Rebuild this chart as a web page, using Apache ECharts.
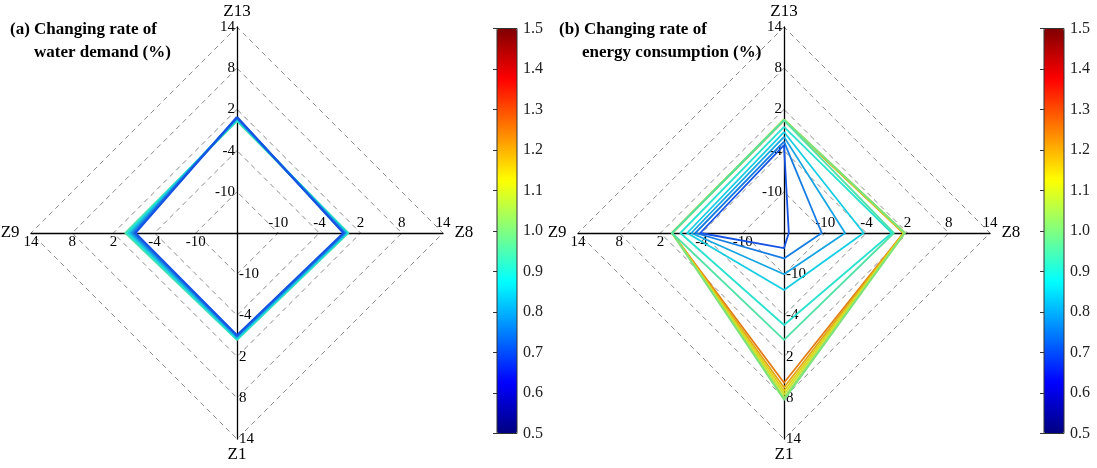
<!DOCTYPE html>
<html>
<head>
<meta charset="utf-8">
<script src="https://cdn.jsdelivr.net/npm/echarts@6/dist/echarts.min.js"></script>
<style>html,body{margin:0;padding:0;background:#fff;}#c{width:1097px;height:468px;}</style>
</head>
<body>
<div id="c"></div>
<script>
// ---- data ----
const axisNames = ['Z13', 'Z9', 'Z1', 'Z8'];          // radar order: top, left, bottom, right
const axisMin = -16, axisMax = 14;
const colorbarTicks = [0.5, 0.6, 0.7, 0.8, 0.9, 1.0, 1.1, 1.2, 1.3, 1.4, 1.5];

// (a) water demand changing rate (%)
const waterRatio = [0.70, 0.75, 0.80, 0.85, 0.90, 0.95];
const waterZ13 = [0.9, 0.8, 0.7, 0.6, 0.45, 0.3];
const waterZ9  = [-1.2, -0.9, -0.6, -0.3, 0.0, 0.25];
const waterZ1  = [-1.1, -1.0, -0.85, -0.7, -0.55, -0.45];
const waterZ8  = [-0.5, -0.35, -0.2, -0.05, 0.1, 0.2];

// (b) energy consumption changing rate (%)
const energyRatio = [0.70, 0.75, 0.80, 0.85, 0.90, 0.95, 1.00, 1.05, 1.10, 1.15, 1.20, 1.25];
const energyZ13 = [-3.2, -2.7, -2.0, -1.3, -0.55, 0.4, 0.5, 0.5, 0.5, 0.5, 0.4, 0.4];
const energyZ9  = [-3.8, -3.1, -2.5, -1.9, -0.9, 0.3, 0.3, 0.3, 0.3, 0.3, 0.3, 0.3];
const energyZ1  = [-13.8, -12.3, -10.0, -7.7, -2.6, -0.45, 8.3, 8.0, 7.5, 7.0, 6.5, 5.8];
const energyZ8  = [-15.3, -10.5, -7.1, -4.4, -0.3, 0.0, 1.6, 1.6, 1.5, 1.5, 1.4, 1.4];

// ---- styling helpers ----
const jetStops = ['#000080', '#0000ff', '#0080ff', '#00ffff', '#80ff80', '#ffff00', '#ff8000', '#ff0000', '#800000'];
function hex2rgb(h) { return [parseInt(h.substr(1,2),16), parseInt(h.substr(3,2),16), parseInt(h.substr(5,2),16)]; }
function jetLine(v) {
  let t = (v - 0.5) / 1.0; t = Math.max(0, Math.min(1, t));
  const p = t * 8, i = Math.min(7, Math.floor(p)), f = p - i;
  const a = hex2rgb(jetStops[i]), b = hex2rgb(jetStops[i + 1]);
  const c = a.map((x, k) => Math.round((x + (b[k] - x) * f) * 0.8 + 22));
  return 'rgb(' + c.join(',') + ')';
}
const serif = '"Liberation Serif", "DejaVu Serif", serif';

function radarCfg(cx) {
  return {
    center: [cx, 233],
    radius: 206,
    startAngle: 90,
    shape: 'polygon',
    splitNumber: 5,
    indicator: axisNames.map(n => ({ name: n, min: axisMin, max: axisMax })),
    axisName: { color: '#000', fontFamily: serif, fontSize: 17 },
    nameGap: 4,
    axisLine: { show: true, lineStyle: { color: '#000', width: 1.3 } },
    axisTick: { show: false },
    axisLabel: {
      show: true, color: '#000', fontFamily: serif, fontSize: 15, margin: 2,
      formatter: v => (Math.abs(v - axisMin) < 1e-6 ? '' : String(Math.round(v)))
    },
    splitLine: { lineStyle: { color: '#8c8c8c', width: 1, type: [5, 4] } },
    splitArea: { show: false }
  };
}

// drawn from the highest ratio down, so lower ratios sit on top
function radarData(ratio, z13, z9, z1, z8, width) {
  const out = [];
  for (let i = ratio.length - 1; i >= 0; i--) {
    out.push({
      value: [z13[i], z9[i], z1[i], z8[i]],
      name: String(ratio[i]),
      symbol: 'none',
      lineStyle: { color: jetLine(ratio[i]), width: width }
    });
  }
  return out;
}

const titleStyle = { fontFamily: serif, fontWeight: 'bold', fontSize: 17, color: '#000' };

function colorbarGrid(left) {
  return { left: left, top: 28.5, width: 20, height: 405, show: true, borderColor: '#333', borderWidth: 1, backgroundColor: 'transparent', z: 10 };
}

const chart = echarts.init(document.getElementById('c'), null, { renderer: 'canvas' });
chart.setOption({
  animation: false,
  backgroundColor: '#fff',
  title: [
    { text: '(a) Changing rate of', left: 5, top: 16, textStyle: titleStyle },
    { text: 'water demand (%)', left: 29, top: 39, textStyle: titleStyle },
    { text: '(b) Changing rate of', left: 554, top: 16, textStyle: titleStyle },
    { text: 'energy consumption (%)', left: 577, top: 39, textStyle: titleStyle }
  ],
  radar: [radarCfg(237), radarCfg(784)],
  grid: [colorbarGrid(497), colorbarGrid(1044)],
  xAxis: [
    { type: 'value', gridIndex: 0, show: false, min: 0, max: 1 },
    { type: 'value', gridIndex: 1, show: false, min: 0, max: 1 }
  ],
  yAxis: [0, 1].map(g => ({
    type: 'value', gridIndex: g, position: 'right',
    min: colorbarTicks[0], max: colorbarTicks[colorbarTicks.length - 1], interval: 0.1,
    z: 10,
    axisLine: { show: false },
    splitLine: { show: false },
    axisTick: { show: true, inside: true, length: 4, lineStyle: { color: '#333' } },
    axisLabel: { color: '#222', fontFamily: serif, fontSize: 16, margin: 6, formatter: v => v.toFixed(1) }
  })),
  visualMap: [497, 1044].map((left, k) => ({
    type: 'continuous', min: 0.5, max: 1.5, calculable: false,
    orient: 'vertical', left: left, top: 28.5, itemWidth: 20, itemHeight: 405,
    padding: 0, text: null, seriesIndex: 2 + k,
    inRange: { color: jetStops }
  })),
  series: [
    { type: 'radar', radarIndex: 0, data: radarData(waterRatio, waterZ13, waterZ9, waterZ1, waterZ8, 2.2) },
    { type: 'radar', radarIndex: 1, data: radarData(energyRatio, energyZ13, energyZ9, energyZ1, energyZ8, 1.8) },
    { type: 'line', xAxisIndex: 0, yAxisIndex: 0, data: [], silent: true },
    { type: 'line', xAxisIndex: 1, yAxisIndex: 1, data: [], silent: true }
  ]
});
</script>
</body>
</html>
